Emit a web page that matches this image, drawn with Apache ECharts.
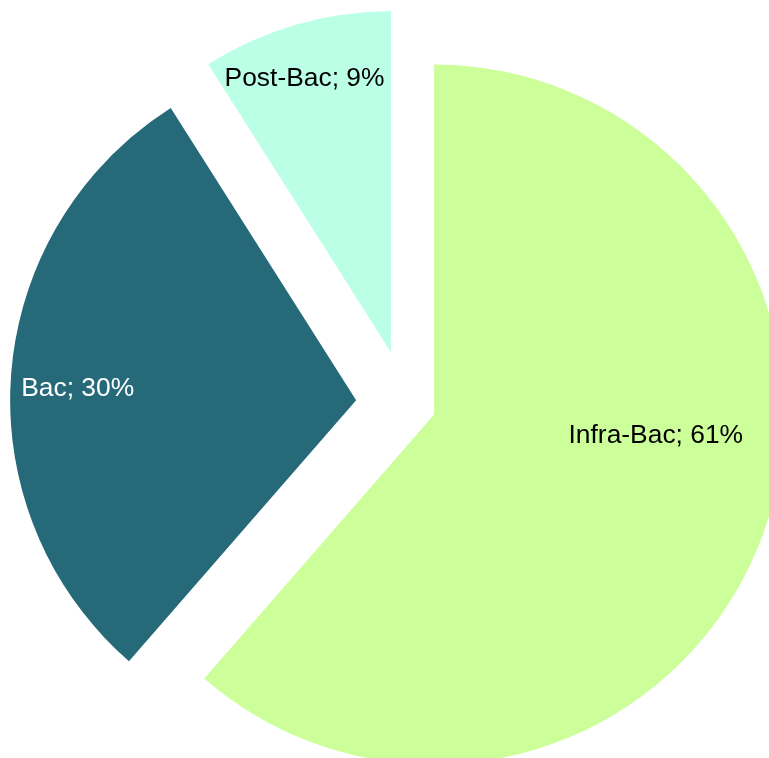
<!DOCTYPE html>
<html>
<head>
<meta charset="utf-8">
<script src="https://cdn.jsdelivr.net/npm/echarts@6/dist/echarts.min.js"></script>
<style>
  html, body { margin: 0; padding: 0; background: #ffffff; }
  #chart { width: 769px; height: 758px; }
</style>
</head>
<body>
<div id="chart"></div>
<script>
// ---- data ----
const categories = ['Infra-Bac', 'Bac', 'Post-Bac'];
const values = [61.4, 29.6, 9.0];

// ---- styles ----
const sliceColors = ['#CCFF99', '#266A7A', '#BBFFE6'];
const labelColors = ['#000000', '#ffffff', '#000000'];
const explode = [30, 50, 54];      // per-slice explosion (px)
const radii = [350, 346, 341];
const labelShift = [[55, -41], [-103, 2], [-38, -107]];
const center = [406, 404];

const chart = echarts.init(document.getElementById('chart'), null, { renderer: 'canvas' });

const series = categories.map(function (name, k) {
  return {
    type: 'pie',
    silent: true,
    animation: false,
    center: center,
    radius: [0, radii[k]],
    startAngle: 90,
    clockwise: true,
    percentPrecision: 0,
    selectedMode: 'multiple',
    selectedOffset: explode[k],
    avoidLabelOverlap: false,
    labelLayout: { dx: labelShift[k][0], dy: labelShift[k][1] },
    emphasis: { disabled: true },
    labelLine: { show: false },
    data: categories.map(function (n, i) {
      const own = i === k;
      return {
        name: n,
        value: values[i],
        selected: own,
        itemStyle: { color: own ? sliceColors[i] : 'rgba(0,0,0,0)', borderWidth: 0 },
        label: {
          show: own,
          position: 'inside',
          formatter: '{b}; {d}%',
          color: labelColors[i],
          fontFamily: 'Liberation Sans, Arial, sans-serif',
          fontSize: 26.4,
          textBorderWidth: 0
        }
      };
    })
  };
});

chart.setOption({
  backgroundColor: '#ffffff',
  animation: false,
  tooltip: { show: false },
  series: series
});
</script>
</body>
</html>
